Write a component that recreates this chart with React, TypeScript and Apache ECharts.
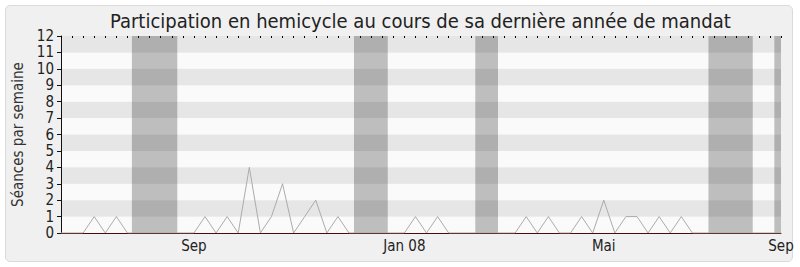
import React, { useEffect, useRef } from "react";
import * as echarts from "echarts";

// Weekly sittings attended, one value per week
const weeklySittings = [
  0, 0, 0, 1, 0, 1, 0, 0, 0, 0, 0, 0, 0, 1, 0, 1, 0, 4, 0, 1, 3, 0, 1, 2, 0, 1,
  0, 0, 0, 0, 0, 0, 1, 0, 1, 0, 0, 0, 0, 0, 0, 0, 1, 0, 1, 0, 0, 1, 0, 2, 0, 1,
  1, 0, 1, 0, 1, 0, 0, 0, 0, 0, 0, 0, 0, 0,
];

// Month labels placed on week index
const monthTickWeeks = [12, 31, 49, 65];
const monthTickLabels = ["Sep", "Jan 08", "Mai", "Sep"];

// Parliamentary recess periods, in week units [start, end]
const recessWeeks: [number, number][] = [
  [6.4, 10.5],
  [26.45, 29.5],
  [37.4, 39.45],
  [58.45, 62.45],
  [64.4, 65],
];

const yTicks = [0, 1, 2, 3, 4, 5, 6, 7, 8, 9, 10, 11, 12];

const FONT = "'DejaVu Sans Condensed', 'DejaVu Sans', sans-serif";

export default function App() {
  const ref = useRef<HTMLDivElement>(null);

  useEffect(() => {
    if (!ref.current) return;
    const chart = echarts.init(ref.current, undefined, { renderer: "svg" });
    const lastWeek = weeklySittings.length - 1;
    const allWeeks = weeklySittings.map((_, i) => i);

    chart.setOption({
      animation: false,
      backgroundColor: "transparent",
      title: {
        text: "Participation en hemicycle au cours de sa dernière année de mandat",
        left: 105,
        top: 6,
        textStyle: {
          fontFamily: FONT,
          fontSize: 20,
          fontWeight: "normal",
          color: "#222",
        },
      },
      grid: { left: 61, right: 19, top: 36, bottom: 34 },
      xAxis: [
        {
          type: "value",
          min: 0,
          max: lastWeek,
          splitLine: { show: false },
          axisLine: { show: true, lineStyle: { color: "#4a0c0c", width: 1 } },
          axisTick: { show: false },
          axisLabel: {
            customValues: monthTickWeeks,
            formatter: (v: number) => {
              const k = monthTickWeeks.indexOf(Math.round(v));
              return k >= 0 ? monthTickLabels[k] : "";
            },
            fontFamily: FONT,
            fontSize: 15,
            color: "#222",
            margin: 5,
          },
        },
        {
          type: "value",
          position: "top",
          min: 0,
          max: lastWeek,
          splitLine: { show: false },
          axisLine: { show: false },
          axisLabel: { show: false },
          axisTick: {
            show: true,
            inside: true,
            length: 2,
            customValues: allWeeks,
            lineStyle: { color: "#000", width: 1 },
          },
        },
      ],
      yAxis: {
        type: "value",
        min: 0,
        max: 12,
        interval: 1,
        name: "Séances par semaine",
        nameLocation: "middle",
        nameGap: 36,
        nameTextStyle: { fontFamily: FONT, fontSize: 15, color: "#333" },
        axisLine: { show: true, lineStyle: { color: "#111" } },
        axisTick: { show: true, length: 4, lineStyle: { color: "#111" } },
        axisLabel: {
          fontFamily: FONT,
          fontSize: 15,
          color: "#222",
          margin: 7,
          formatter: (v: number) => (yTicks.includes(v) ? String(v) : ""),
        },
        splitLine: { show: false },
        splitArea: { show: true, areaStyle: { color: ["#fafafa", "#e6e6e6"] } },
      },
      series: [
        {
          type: "line",
          data: weeklySittings.map((v, i) => [i, v]),
          showSymbol: false,
          symbol: "none",
          lineStyle: { color: "#ababab", width: 1 },
          markArea: {
            silent: true,
            itemStyle: { color: "rgba(0,0,0,0.24)" },
            data: recessWeeks.map(([a, b]) => [{ xAxis: a }, { xAxis: b }]),
          },
          z: 3,
        },
      ],
    });

    return () => chart.dispose();
  }, []);

  return (
    <div
      style={{
        position: "fixed",
        left: 0,
        top: 0,
        width: 800,
        height: 267,
        background: "#fff",
      }}
    >
      <div
        style={{
          position: "absolute",
          left: 5,
          top: 5,
          width: 786,
          height: 255,
          background: "#f0f0f0",
          border: "1px solid #dadada",
          borderRadius: 5,
        }}
      />
      <div
        ref={ref}
        style={{ position: "absolute", left: 0, top: 0, width: 800, height: 267 }}
      />
    </div>
  );
}
